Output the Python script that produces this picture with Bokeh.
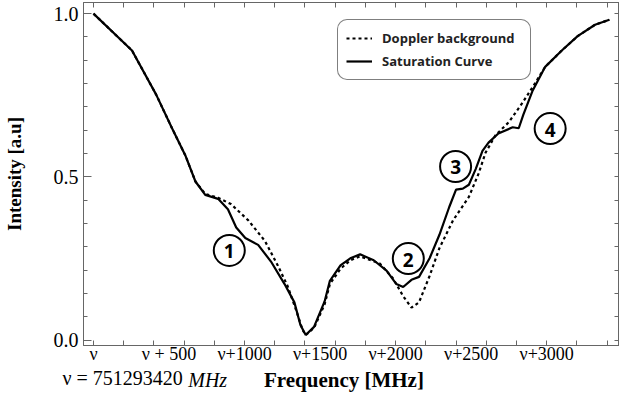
from bokeh.plotting import figure
from bokeh.models import FixedTicker, LinearAxis, Range1d, Legend, LegendItem
from bokeh.core.properties import value
from bokeh.embed import file_html
from bokeh.resources import INLINE

# ---- data (frequency offset in MHz from nu, intensity in a.u.) ----
freq_solid = [0, 255, 415, 520, 610, 675, 740, 825, 890, 945, 1005, 1090, 1175, 1265, 1330,
              1370, 1405, 1460, 1530, 1565, 1635, 1700, 1765, 1855, 1940, 2005, 2050, 2105,
              2155, 2225, 2290, 2355, 2400, 2445, 2485, 2530, 2575, 2615, 2680, 2775, 2815,
              2845, 2905, 2990, 3100, 3205, 3320, 3415]
int_solid = [1.000, 0.887, 0.752, 0.649, 0.564, 0.486, 0.445, 0.433, 0.401, 0.345, 0.313,
             0.292, 0.241, 0.172, 0.116, 0.047, 0.016, 0.041, 0.119, 0.182, 0.229, 0.251,
             0.263, 0.245, 0.213, 0.172, 0.163, 0.185, 0.194, 0.251, 0.323, 0.408, 0.461,
             0.464, 0.476, 0.524, 0.580, 0.605, 0.633, 0.652, 0.649, 0.690, 0.762, 0.837,
             0.887, 0.931, 0.966, 0.981]

freq_doppler = [0, 255, 415, 520, 610, 675, 740, 825, 910, 1025, 1135, 1220, 1285, 1340, 1385,
                1405, 1460, 1530, 1565, 1635, 1700, 1765, 1895, 1985, 2050, 2105, 2155, 2225,
                2290, 2380, 2485, 2550, 2595, 2660, 2750, 2840, 2910, 2990, 3100, 3205, 3320,
                3415]
int_doppler = [1.000, 0.887, 0.752, 0.649, 0.564, 0.486, 0.448, 0.436, 0.417, 0.367, 0.304,
               0.229, 0.166, 0.094, 0.031, 0.016, 0.038, 0.110, 0.172, 0.219, 0.245, 0.257,
               0.235, 0.188, 0.135, 0.100, 0.116, 0.197, 0.282, 0.367, 0.439, 0.511, 0.574,
               0.627, 0.668, 0.727, 0.777, 0.837, 0.887, 0.931, 0.966, 0.981]

x_tick_values = [0, 500, 1000, 1500, 2000, 2500, 3000]
x_tick_labels = ["ν", "ν + 500", "ν+1000", "ν+1500", "ν+2000", "ν+2500", "ν+3000"]
x_minor_ticks = list(range(0, 3600, 200))
y_tick_values = [0.0, 0.5, 1.0]
y_tick_labels = ["0.0", "0.5", "1.0"]
y_minor_ticks = [k * 0.5 / 7 for k in range(0, 15)]

marker_ids = ["1", "2", "3", "4"]
marker_freq = [899, 2084, 2397, 3023]
marker_int = [0.275, 0.250, 0.532, 0.648]

x_title = "Frequency [MHz]"
y_title = "Intensity [a.u]"
note_text = "ν = 751293420"
note_unit = "MHz"
# horizontal placement of the texts under the axis (x-axis units)
TITLE_POS = 1658
NOTE_POS = 193
UNIT_POS = 756

SERIF = "Liberation Serif"
FRAME = "#666666"

p = figure(width=619, height=394, output_backend="svg", toolbar_location=None,
           x_range=Range1d(-66, 3482), y_range=Range1d(-0.016, 1.034),
           min_border_left=0, min_border_right=0, min_border_top=2, min_border_bottom=0,
           y_axis_label=y_title)
# the canvas uses the page's right/bottom margin area, so that it ends at the window edge
p.styles = {"margin-bottom": "-8px", "margin-right": "-8px"}
p.grid.visible = False
p.outline_line_color = FRAME
p.background_fill_color = "white"

xa = p.xaxis[0]
xa.ticker = FixedTicker(ticks=x_tick_values, minor_ticks=x_minor_ticks)
xa.major_label_overrides = {v: l for v, l in zip(x_tick_values, x_tick_labels)}
ya = p.yaxis[0]
ya.ticker = FixedTicker(ticks=y_tick_values, minor_ticks=y_minor_ticks)
ya.major_label_overrides = {v: l for v, l in zip(y_tick_values, y_tick_labels)}

for ax in (xa, ya):
    ax.axis_line_color = FRAME
    ax.major_tick_line_color = FRAME
    ax.minor_tick_line_color = FRAME
    ax.major_tick_out = 0
    ax.minor_tick_out = 0
    ax.minor_tick_in = 4
    ax.major_label_text_font = SERIF
    ax.major_label_text_color = "black"
    ax.axis_label_text_font = SERIF
    ax.axis_label_text_font_style = "bold"
    ax.axis_label_text_color = "black"

xa.major_tick_in = 0
xa.minor_tick_in = 5
xa.major_label_text_font_size = "18px"
xa.major_label_standoff = -2

ya.major_tick_in = 8
ya.major_label_text_font_size = "20px"
ya.major_label_standoff = 5
ya.axis_label_text_font_size = "19px"
ya.axis_label_standoff = 26

top = LinearAxis(ticker=FixedTicker(ticks=[], minor_ticks=x_minor_ticks))
right = LinearAxis(ticker=FixedTicker(ticks=[], minor_ticks=y_minor_ticks))
for ax in (top, right):
    ax.axis_line_color = FRAME
    ax.minor_tick_line_color = FRAME
    ax.major_tick_out = 0
    ax.major_tick_in = 0
    ax.minor_tick_out = 0
    ax.minor_tick_in = 5
    ax.major_label_standoff = 0
    ax.axis_label_standoff = 0
p.add_layout(top, "above")
p.add_layout(right, "right")

# texts of the row under the tick labels, each carried by a label-only axis
def text_axis(pos, text, style, size, standoff):
    ax = LinearAxis(ticker=FixedTicker(ticks=[pos], minor_ticks=[]))
    ax.major_label_overrides = {pos: text}
    ax.axis_line_color = None
    ax.major_tick_line_color = None
    ax.minor_tick_line_color = None
    ax.major_tick_out = 0
    ax.major_tick_in = 0
    ax.minor_tick_out = 0
    ax.minor_tick_in = 0
    ax.axis_label_standoff = 0
    ax.major_label_standoff = standoff
    ax.major_label_text_font = SERIF
    ax.major_label_text_font_size = size
    ax.major_label_text_font_style = style
    ax.major_label_text_color = "black"
    return ax

p.add_layout(text_axis(NOTE_POS, note_text, "normal", "20px", 0), "below")
p.add_layout(text_axis(TITLE_POS, x_title, "bold", "21px", -24), "below")
p.add_layout(text_axis(UNIT_POS, note_unit, "italic", "20px", -26), "below")

r_d = p.line(freq_doppler, int_doppler, line_color="black", line_width=2.2, line_dash="3 3")
r_s = p.line(freq_solid, int_solid, line_color="black", line_width=2.2)

p.scatter(marker_freq, marker_int, marker="circle", size=31, fill_color="white",
          line_color="black", line_width=2)
p.text(marker_freq, marker_int, text=marker_ids, text_align="center", text_baseline="middle",
       text_font=value("Open Sans"), text_font_style="bold", text_font_size="19px",
       text_color="black", y_offset=1)

legend = Legend(items=[LegendItem(label="Doppler background", renderers=[r_d]),
                       LegendItem(label="Saturation Curve", renderers=[r_s])],
                location=(254, 265))
legend.label_text_font = "Open Sans"
legend.label_text_font_style = "bold"
legend.label_text_font_size = "13px"
legend.label_text_color = "#222222"
legend.glyph_width = 26
legend.glyph_height = 16
legend.label_standoff = 10
legend.label_height = 20
legend.label_width = 140
legend.padding = 8
legend.spacing = 3
legend.margin = 0
legend.border_line_color = "black"
legend.border_line_width = 1.5
legend.background_fill_color = "white"
legend.background_fill_alpha = 1
if "border_radius" in Legend.properties():
    legend.border_radius = 10
p.add_layout(legend, "center")

open("out.html", "w").write(file_html(p, INLINE))
